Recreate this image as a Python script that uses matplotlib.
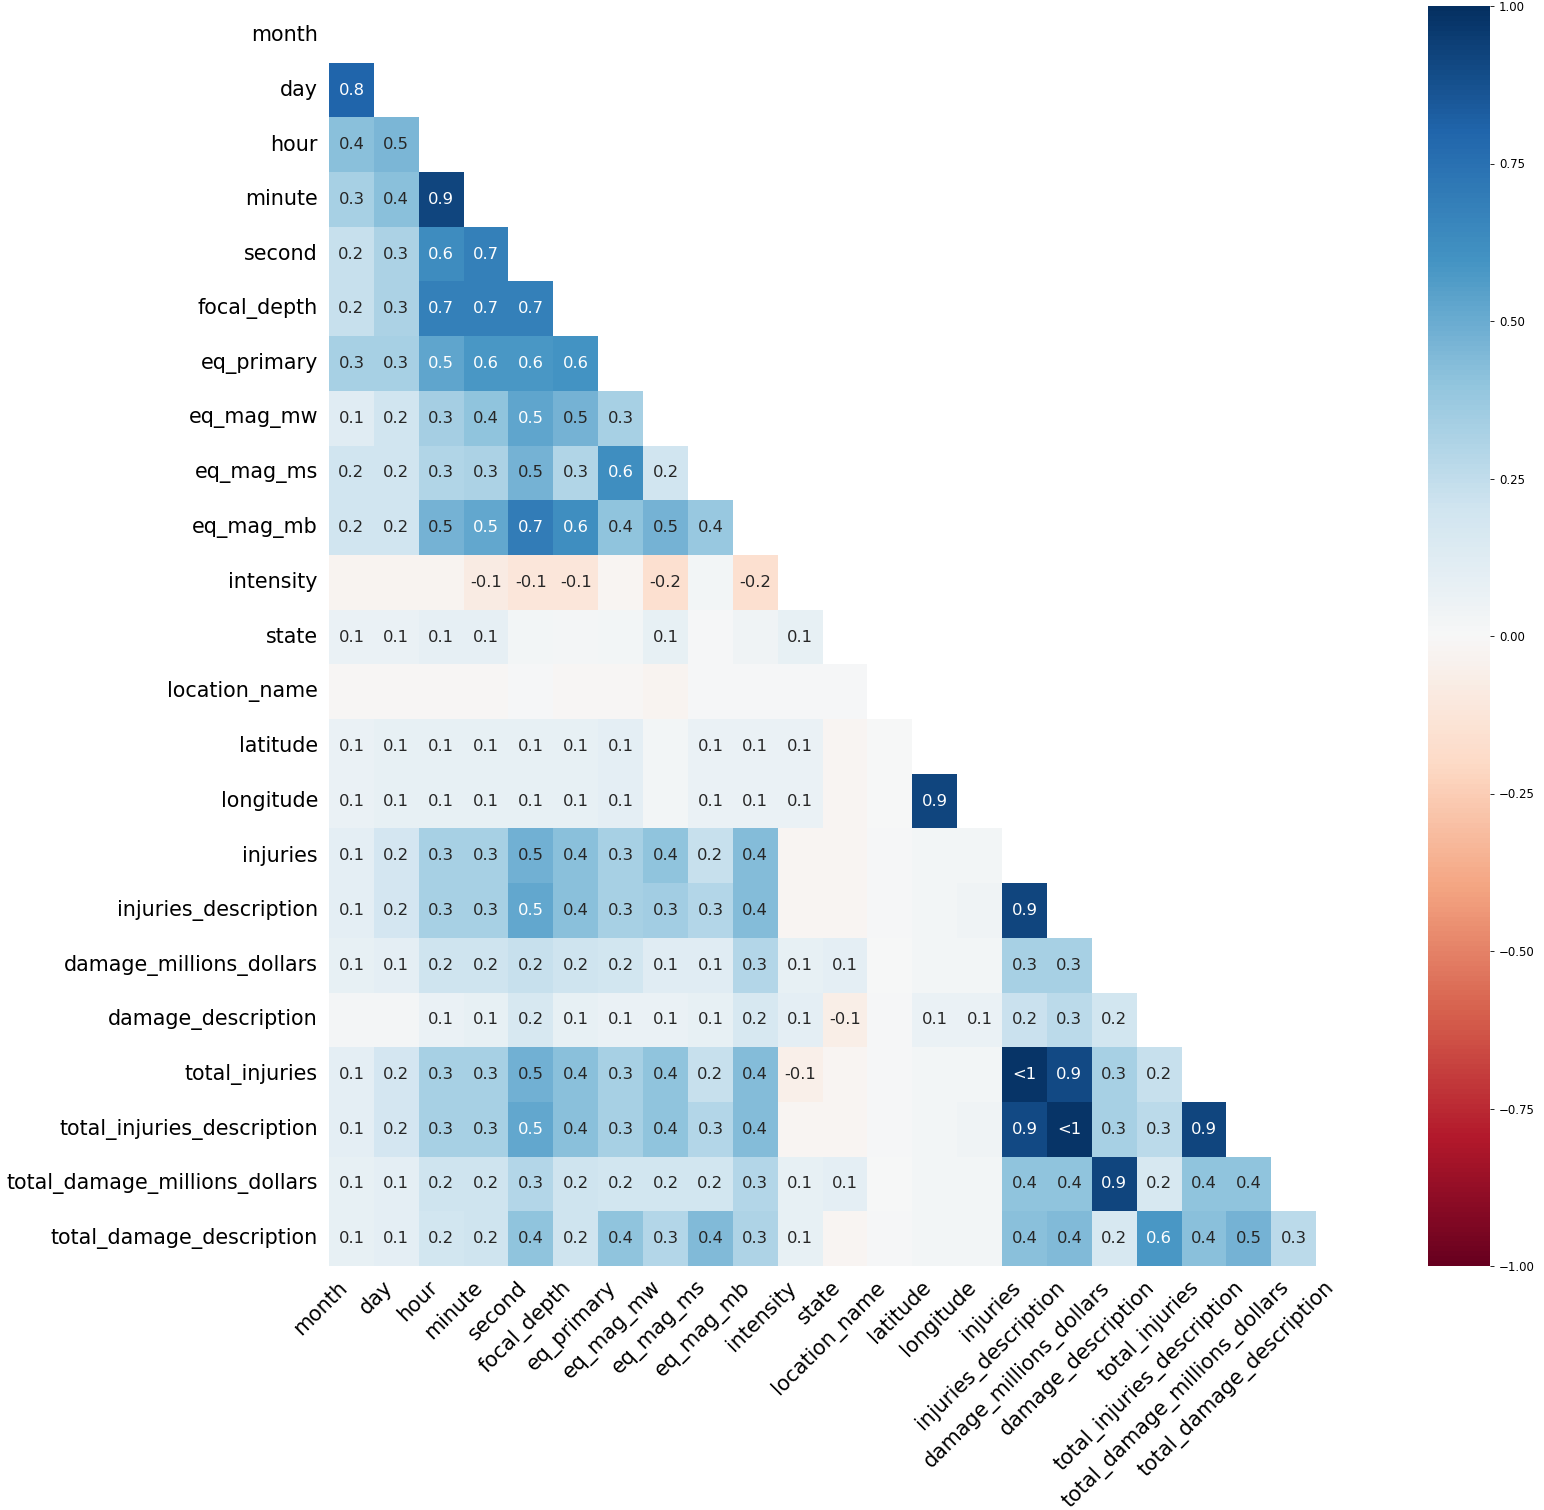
import numpy as np
import matplotlib
matplotlib.use("Agg")
import matplotlib.pyplot as plt
import seaborn as sns

# column names (same order on both axes)
labels = [
    "month", "day", "hour", "minute", "second", "focal_depth", "eq_primary",
    "eq_mag_mw", "eq_mag_ms", "eq_mag_mb", "intensity", "state", "location_name",
    "latitude", "longitude", "injuries", "injuries_description",
    "damage_millions_dollars", "damage_description", "total_injuries",
    "total_injuries_description", "total_damage_millions_dollars",
    "total_damage_description",
]

# nullity correlation, lower triangle, row by row (row i has i values)
corr_rows = [
    [],
    [0.80],
    [0.42, 0.46],
    [0.33, 0.42, 0.92],
    [0.23, 0.32, 0.63, 0.68],
    [0.23, 0.32, 0.68, 0.68, 0.68],
    [0.33, 0.33, 0.53, 0.58, 0.58, 0.60],
    [0.12, 0.20, 0.34, 0.40, 0.53, 0.47, 0.33],
    [0.20, 0.20, 0.30, 0.32, 0.47, 0.30, 0.62, 0.20],
    [0.20, 0.20, 0.47, 0.52, 0.70, 0.62, 0.40, 0.47, 0.38],
    [-0.03, -0.03, -0.03, -0.08, -0.12, -0.12, -0.02, -0.16, 0.03, -0.16],
    [0.07, 0.07, 0.09, 0.09, 0.03, 0.02, 0.03, 0.08, 0.01, 0.04, 0.08],
    [-0.01, -0.01, -0.01, -0.01, 0.01, -0.01, -0.01, -0.03, 0.01, 0.01, 0.01, 0.01],
    [0.07, 0.08, 0.08, 0.08, 0.08, 0.08, 0.10, 0.03, 0.07, 0.07, 0.07, -0.02, 0.00],
    [0.07, 0.08, 0.08, 0.08, 0.08, 0.08, 0.10, 0.03, 0.07, 0.07, 0.07, -0.02, 0.00,
     0.92],
    [0.10, 0.18, 0.33, 0.33, 0.48, 0.42, 0.33, 0.40, 0.23, 0.43, -0.02, -0.02, 0.01,
     0.03, 0.03],
    [0.10, 0.18, 0.33, 0.33, 0.52, 0.42, 0.33, 0.35, 0.29, 0.43, -0.02, -0.02, 0.01,
     0.03, 0.04, 0.92],
    [0.08, 0.10, 0.21, 0.21, 0.23, 0.21, 0.19, 0.12, 0.12, 0.29, 0.08, 0.10, 0.00,
     0.03, 0.03, 0.33, 0.33],
    [0.02, 0.02, 0.07, 0.08, 0.17, 0.08, 0.07, 0.07, 0.08, 0.17, 0.10, -0.07, 0.01,
     0.07, 0.07, 0.22, 0.27, 0.19],
    [0.10, 0.18, 0.33, 0.33, 0.48, 0.42, 0.33, 0.40, 0.23, 0.43, -0.06, -0.02, 0.01,
     0.03, 0.03, 0.98, 0.90, 0.33, 0.23],
    [0.10, 0.18, 0.33, 0.33, 0.52, 0.42, 0.33, 0.40, 0.29, 0.43, -0.02, -0.02, 0.01,
     0.03, 0.04, 0.90, 0.98, 0.33, 0.27, 0.92],
    [0.08, 0.10, 0.21, 0.21, 0.29, 0.21, 0.19, 0.19, 0.19, 0.29, 0.08, 0.10, 0.00,
     0.03, 0.03, 0.40, 0.40, 0.92, 0.17, 0.40, 0.40],
    [0.08, 0.10, 0.19, 0.21, 0.40, 0.21, 0.40, 0.29, 0.44, 0.31, 0.08, -0.02, 0.01,
     0.03, 0.03, 0.42, 0.44, 0.17, 0.58, 0.42, 0.47, 0.27],
]

n = len(labels)
corr = np.zeros((n, n))
for i, row in enumerate(corr_rows):
    for j, v in enumerate(row):
        corr[i, j] = v
        corr[j, i] = v
np.fill_diagonal(corr, 1.0)
mask = np.triu(np.ones((n, n), dtype=bool))


def fmt_cell(t):
    if 0.95 <= t < 1:
        return "<1"
    if -1 < t <= -0.95:
        return ">-1"
    if -0.05 < t < 0.05:
        return ""
    return "%.1f" % t


fig = plt.figure(figsize=(15.44, 15.10), dpi=100)
ax = fig.add_axes([329 / 1544, 1 - 1266 / 1510, 1032 / 1544, 1258 / 1510])
cax = fig.add_axes([1428 / 1544, 1 - 1266 / 1510, 62 / 1544, 1260 / 1510])

sns.heatmap(corr, mask=mask, cmap="RdBu", vmin=-1, vmax=1, annot=False,
            ax=ax, cbar_ax=cax, square=False)

# cell labels, white on the darker cells
for i in range(n):
    for j in range(i):
        v = corr[i, j]
        txt = fmt_cell(v)
        if not txt:
            continue
        color = "w" if abs(v) >= 0.5 else ".15"
        ax.text(j + 0.5, i + 0.5, txt, ha="center", va="center",
                fontsize=11.8, color=color)

ax.set_xticks(np.arange(n) + 0.5)
ax.set_yticks(np.arange(n) + 0.5)
ax.set_xticklabels(labels, rotation=45, ha="right", fontsize=14.9)
ax.set_yticklabels(labels, rotation=0, fontsize=14.9)
ax.tick_params(length=0, pad=8)

cax.set_yticks([-1, -0.75, -0.5, -0.25, 0, 0.25, 0.5, 0.75, 1])
cax.set_yticklabels(["\u22121.00", "\u22120.75", "\u22120.50", "\u22120.25", "0.00",
                     "0.25", "0.50", "0.75", "1.00"])
cax.tick_params(labelsize=8.5, length=3, width=0.6)

fig.savefig("out.png", dpi=100)
